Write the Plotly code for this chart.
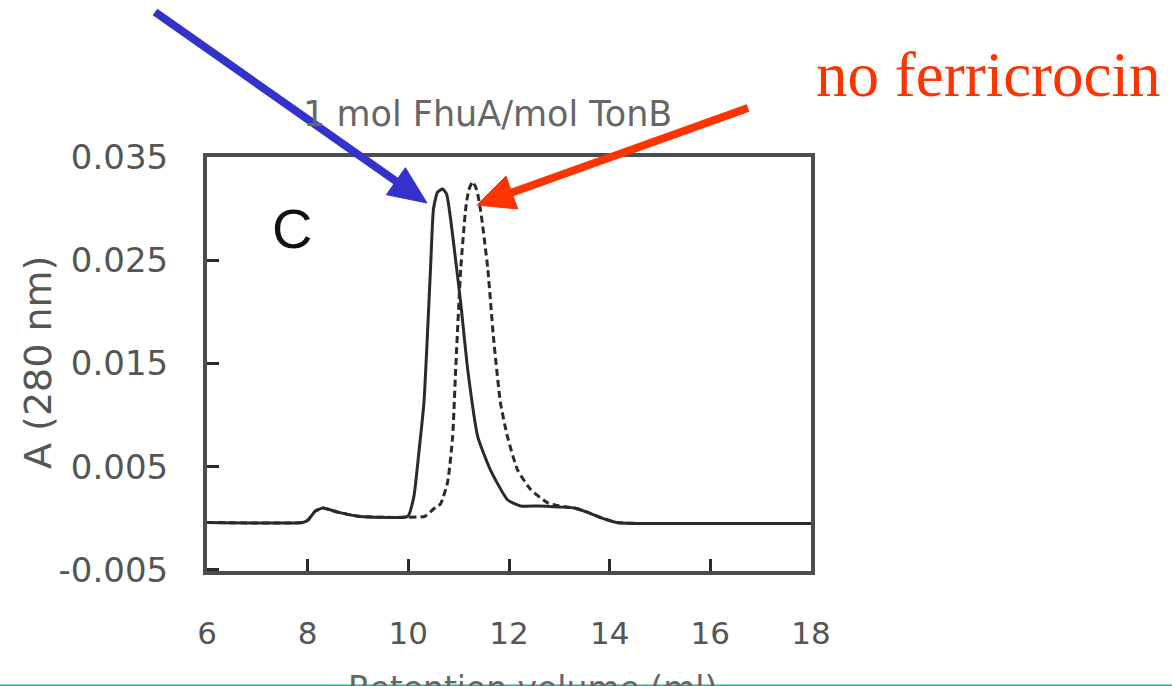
import plotly.graph_objects as go

# ---------------- data ----------------
x_with = [6.0, 7.9, 8.0, 8.15, 8.3, 8.6, 9.0, 9.5, 9.99, 10.11, 10.21, 10.31,
          10.44, 10.5, 10.58, 10.68, 10.76, 10.84, 10.94, 11.04, 11.18, 11.38,
          11.63, 11.97, 12.23, 12.6, 13.0, 13.3, 13.55, 13.86, 14.14, 14.6,
          15.5, 16.5, 17.5, 18.0]
y_with = [-0.0004, -0.0004, -0.0002, 0.0007, 0.0010, 0.0006, 0.0002, 0.0001,
          0.0002, 0.0021, 0.0064, 0.0112, 0.0241, 0.0300, 0.0316, 0.0319,
          0.0314, 0.0290, 0.0250, 0.0209, 0.0144, 0.0079, 0.0047, 0.0018,
          0.0012, 0.0012, 0.0011, 0.0010, 0.0006, 0.0000, -0.0004, -0.0005,
          -0.0005, -0.0005, -0.0005, -0.0005]

x_without = [6.0, 7.9, 8.0, 8.15, 8.3, 8.6, 9.0, 9.5, 9.99, 10.33, 10.5,
             10.64, 10.78, 10.88, 10.94, 11.04, 11.14, 11.2, 11.28, 11.36,
             11.44, 11.58, 11.69, 11.83, 11.97, 12.17, 12.43, 12.77, 13.0,
             13.3, 13.55, 13.86, 14.14, 14.6, 15.5, 16.5, 17.5, 18.0]
y_without = [-0.0004, -0.0004, -0.0002, 0.0007, 0.0010, 0.0006, 0.0002,
             0.0001, 0.0001, 0.0002, 0.0009, 0.0014, 0.0035, 0.0079, 0.0144,
             0.0241, 0.0300, 0.0318, 0.0326, 0.0318, 0.0297, 0.0241, 0.0176,
             0.0112, 0.0079, 0.0047, 0.0028, 0.0015, 0.0012, 0.0010, 0.0006,
             0.0000, -0.0004, -0.0005, -0.0005, -0.0005, -0.0005, -0.0005]

x_ticks = [6, 8, 10, 12, 14, 16, 18]
y_ticks = [-0.005, 0.005, 0.015, 0.025, 0.035]
y_tick_labels = ["-0.005", "0.005", "0.015", "0.025", "0.035"]

title_text = "1 mol FhuA/mol TonB"
x_title = "Retention volume (ml)"
y_title = "A (280 nm)"
panel_label = "C"
red_label = "no ferricrocin"

# ---------------- layout geometry ----------------
W, H = 1172, 686
L, R, T, B = 207, 1172 - 811, 157, 686 - 571


def px(xp):
    return (xp - L) / (W - L - R)


def py(yp):
    return (H - B - yp) / (H - T - B)


fig = go.Figure()
fig.add_trace(go.Scatter(x=x_with, y=y_with, mode="lines",
                         line=dict(color="#2a2a2a", width=3, shape="spline",
                                   smoothing=0.5),
                         showlegend=False, hoverinfo="skip"))
fig.add_trace(go.Scatter(x=x_without, y=y_without, mode="lines",
                         line=dict(color="#2a2a2a", width=3, dash="7px,4px",
                                   shape="spline", smoothing=0.5),
                         showlegend=False, hoverinfo="skip"))

axis_common = dict(showline=True, mirror=True, linecolor="#4d4d4d", linewidth=4,
                   showgrid=False, zeroline=False, ticks="inside",
                   tickcolor="#2a2a2a", tickwidth=3, ticklen=12)

fig.update_xaxes(range=[6, 18], tickvals=x_ticks,
                 tickfont=dict(family="DejaVu Sans", size=31, color="#555"),
                 ticklabelstandoff=32, **axis_common)
fig.update_yaxes(range=[-0.0051, 0.035], tickvals=y_ticks, ticktext=y_tick_labels,
                 tickfont=dict(family="DejaVu Sans", size=34, color="#555"),
                 ticklabelstandoff=28, **axis_common)

annotations = [
    dict(text=title_text, x=px(487), y=py(114), xref="paper", yref="paper",
         showarrow=False, font=dict(family="DejaVu Sans", size=35, color="#666"),
         xanchor="center", yanchor="middle"),
    dict(text=panel_label, x=px(292), y=py(228), xref="paper", yref="paper",
         showarrow=False, font=dict(family="Liberation Sans", size=56, color="#111"),
         xanchor="center", yanchor="middle"),
    dict(text=y_title, x=px(38), y=py(363), xref="paper", yref="paper",
         showarrow=False, textangle=-90,
         font=dict(family="DejaVu Sans", size=38, color="#555"),
         xanchor="center", yanchor="middle"),
    dict(text=x_title, x=px(532), y=py(688), xref="paper", yref="paper",
         showarrow=False, font=dict(family="DejaVu Sans", size=33, color="#666"),
         xanchor="center", yanchor="middle"),
    dict(text=red_label, x=px(988), y=py(75), xref="paper", yref="paper",
         showarrow=False, font=dict(family="Liberation Serif", size=63, color="#ff3300"),
         xanchor="center", yanchor="middle"),
]
fig.update_layout(annotations=annotations)


def arrow(x0, y0, xt, yt, color, width, head_len, head_w):
    dx, dy = xt - x0, yt - y0
    n = (dx * dx + dy * dy) ** 0.5
    ux, uy = dx / n, dy / n
    bx, by = xt - head_len * ux, yt - head_len * uy
    nx, ny = -uy, ux
    c1 = (bx + head_w / 2 * nx, by + head_w / 2 * ny)
    c2 = (bx - head_w / 2 * nx, by - head_w / 2 * ny)
    fig.add_shape(type="line", xref="paper", yref="paper",
                  x0=px(x0), y0=py(y0), x1=px(bx + 2 * ux), y1=py(by + 2 * uy),
                  line=dict(color=color, width=width))
    path = (f"M {px(xt)},{py(yt)} L {px(c1[0])},{py(c1[1])} "
            f"L {px(c2[0])},{py(c2[1])} Z")
    fig.add_shape(type="path", xref="paper", yref="paper", path=path,
                  fillcolor=color, line=dict(color=color, width=1))


arrow(155, 12, 427, 203, "#3333cc", 8, 38, 33)
arrow(748, 108, 477, 205, "#ff3300", 8, 37, 35)

# bottom slide border
fig.add_shape(type="line", xref="paper", yref="paper",
              x0=px(0), x1=px(W), y0=py(685.3), y1=py(685.3),
              line=dict(color="#2bb08f", width=1.5))

fig.update_layout(width=W, height=H, margin=dict(l=L, r=R, t=T, b=B),
                  paper_bgcolor="white", plot_bgcolor="white", showlegend=False)

fig.write_html("out.html")
